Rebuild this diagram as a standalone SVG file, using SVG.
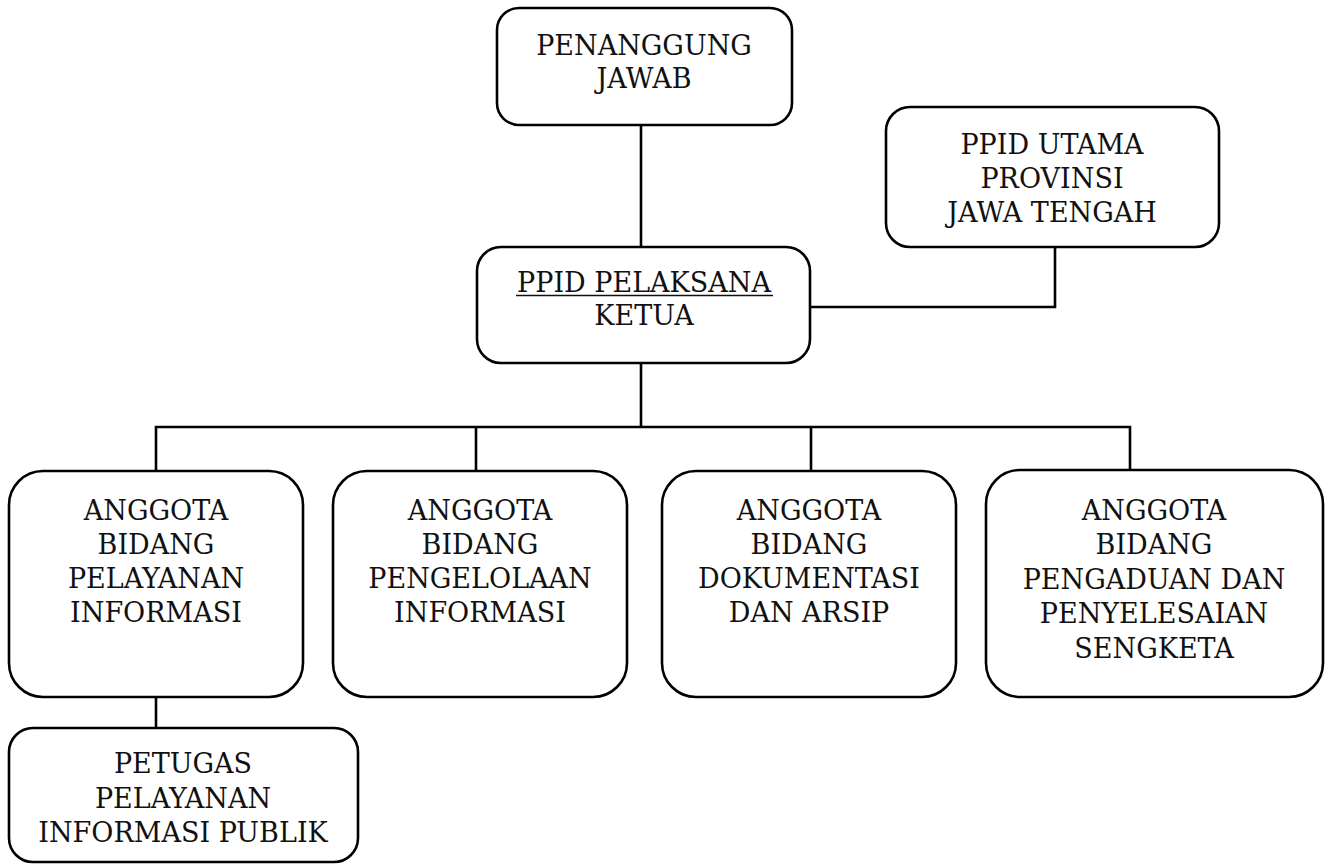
<svg xmlns="http://www.w3.org/2000/svg" width="1331" height="865" viewBox="0 0 1331 865">
<style>
.box{fill:#fff;stroke:#000;stroke-width:2.6}
.ln{fill:none;stroke:#000;stroke-width:2.6}
text{font-family:"DejaVu Serif","Liberation Serif",serif;font-size:27px;fill:#111;text-anchor:middle}
</style>
<rect width="1331" height="865" fill="#fff"/>
<g id="connectors">
<path class="ln" d="M641 125V247"/>
<path class="ln" d="M1055 247V307H810"/>
<path class="ln" d="M641 363V427"/>
<path class="ln" d="M156 471V427H1130V471"/>
<path class="ln" d="M476 427V471"/>
<path class="ln" d="M811 427V471"/>
<path class="ln" d="M156 697V728"/>
</g>
<g id="penanggung-jawab">
<rect class="box" x="497" y="8" width="295" height="117" rx="22"/>
<text x="644" y="55">PENANGGUNG</text>
<text x="644" y="88">JAWAB</text>
</g>
<g id="ppid-utama">
<rect class="box" x="886" y="107" width="333" height="140" rx="24"/>
<text x="1052" y="154">PPID UTAMA</text>
<text x="1052" y="188">PROVINSI</text>
<text x="1052" y="222">JAWA TENGAH</text>
</g>
<g id="ppid-pelaksana">
<rect class="box" x="477" y="247" width="333" height="116" rx="24"/>
<text x="644" y="292">PPID PELAKSANA</text>
<line x1="516" y1="295.5" x2="773" y2="295.5" stroke="#111" stroke-width="1.6"/>
<text x="644" y="325">KETUA</text>
</g>
<g id="anggota-pelayanan">
<rect class="box" x="9" y="471" width="294" height="226" rx="34"/>
<text x="156" y="520">ANGGOTA</text>
<text x="156" y="554">BIDANG</text>
<text x="156" y="588">PELAYANAN</text>
<text x="156" y="622">INFORMASI</text>
</g>
<g id="anggota-pengelolaan">
<rect class="box" x="333" y="471" width="294" height="226" rx="34"/>
<text x="480" y="520">ANGGOTA</text>
<text x="480" y="554">BIDANG</text>
<text x="480" y="588">PENGELOLAAN</text>
<text x="480" y="622">INFORMASI</text>
</g>
<g id="anggota-dokumentasi">
<rect class="box" x="662" y="471" width="294" height="226" rx="34"/>
<text x="809" y="520">ANGGOTA</text>
<text x="809" y="554">BIDANG</text>
<text x="809" y="588">DOKUMENTASI</text>
<text x="809" y="622">DAN ARSIP</text>
</g>
<g id="anggota-pengaduan">
<rect class="box" x="986" y="470" width="337" height="227" rx="34"/>
<text x="1154" y="520">ANGGOTA</text>
<text x="1154" y="554">BIDANG</text>
<text x="1154" y="589">PENGADUAN DAN</text>
<text x="1154" y="623">PENYELESAIAN</text>
<text x="1154" y="658">SENGKETA</text>
</g>
<g id="petugas">
<rect class="box" x="9" y="728" width="349" height="134" rx="24"/>
<text x="183" y="773">PETUGAS</text>
<text x="183" y="808">PELAYANAN</text>
<text x="183" y="842">INFORMASI PUBLIK</text>
</g>
</svg>
